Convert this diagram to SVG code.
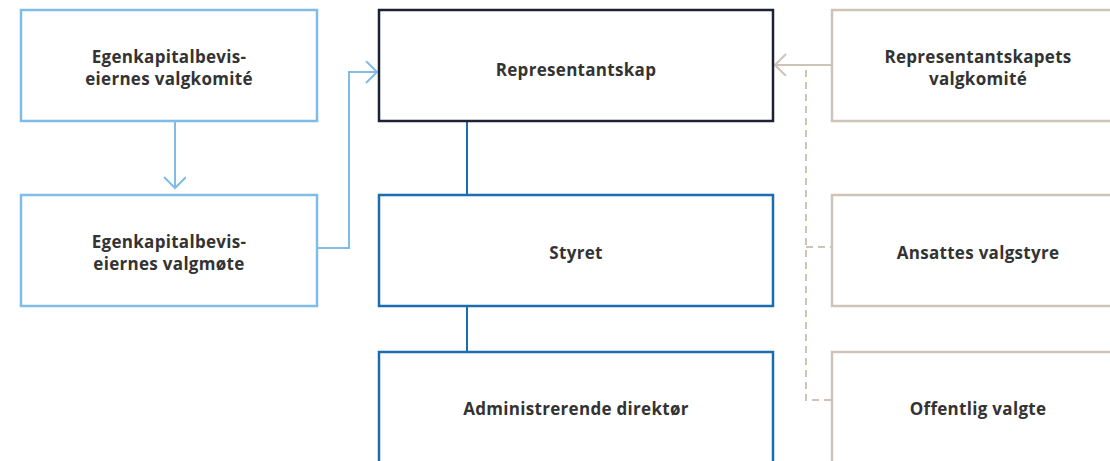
<svg xmlns="http://www.w3.org/2000/svg" width="1110" height="461" viewBox="0 0 1110 461">
<style>
.box{fill:#fff;stroke-width:2.5}
.lb{stroke:#7fbde6}
.nv{stroke:#1d2136}
.bl{stroke:#1c6db0}
.bg{stroke:#cdc3b6}
text{font-family:"Open Sans","Liberation Sans",sans-serif;font-weight:700;font-size:17px;letter-spacing:0.3px;fill:#333;text-anchor:middle}
.c{fill:none;stroke-width:2}
</style>
<defs>
<marker id="chev-lb" markerWidth="14" markerHeight="24" refX="12" refY="11" orient="auto" markerUnits="userSpaceOnUse"><path d="M1,0 L12,11 L1,22" fill="none" stroke="#7fbde6" stroke-width="2"/></marker>
<marker id="chev-bg" markerWidth="14" markerHeight="24" refX="12" refY="11" orient="auto" markerUnits="userSpaceOnUse"><path d="M1,0 L12,11 L1,22" fill="none" stroke="#cdc3b6" stroke-width="2"/></marker>
</defs>
<rect width="1110" height="461" fill="#fff"/>
<g id="connectors">
<path class="c" d="M175,122 V188" stroke="#7fbde6" marker-end="url(#chev-lb)"/>
<path class="c" d="M318,248 H349 V72 H377" stroke="#7fbde6" marker-end="url(#chev-lb)"/>
<path class="c" d="M467,122 V195 M467,307 V351" stroke="#1c6db0" stroke-width="2.5"/>
<path class="c" d="M831,65 H775" stroke="#cdc3b6" marker-end="url(#chev-bg)"/>
<path class="c" d="M806,70 V400 H831 M806,247 H831" stroke="#cdc3b6" stroke-dasharray="7,5"/>
</g>
<g id="n-egk-valgkomite"><rect class="box lb" x="21" y="10" width="296" height="111"/><text x="169" y="63">Egenkapitalbevis-</text><text x="169" y="85">eiernes valgkomité</text></g>
<g id="n-egk-valgmote"><rect class="box lb" x="21" y="195" width="296" height="111"/><text x="169" y="248">Egenkapitalbevis-</text><text x="169" y="270">eiernes valgmøte</text></g>
<g id="n-representantskap"><rect class="box nv" x="379" y="10" width="394" height="111"/><text x="576" y="76">Representantskap</text></g>
<g id="n-styret"><rect class="box bl" x="379" y="195" width="394" height="111"/><text x="576" y="259">Styret</text></g>
<g id="n-adm"><rect class="box bl" x="379" y="352" width="394" height="130"/><text x="576" y="415">Administrerende direktør</text></g>
<g id="n-rep-valgkomite"><rect class="box bg" x="832" y="10" width="296" height="111"/><text x="978" y="63">Representantskapets</text><text x="978" y="85">valgkomité</text></g>
<g id="n-ansattes"><rect class="box bg" x="832" y="195" width="296" height="111"/><text x="978" y="259">Ansattes valgstyre</text></g>
<g id="n-offentlig"><rect class="box bg" x="832" y="352" width="296" height="130"/><text x="978" y="415">Offentlig valgte</text></g>
</svg>
